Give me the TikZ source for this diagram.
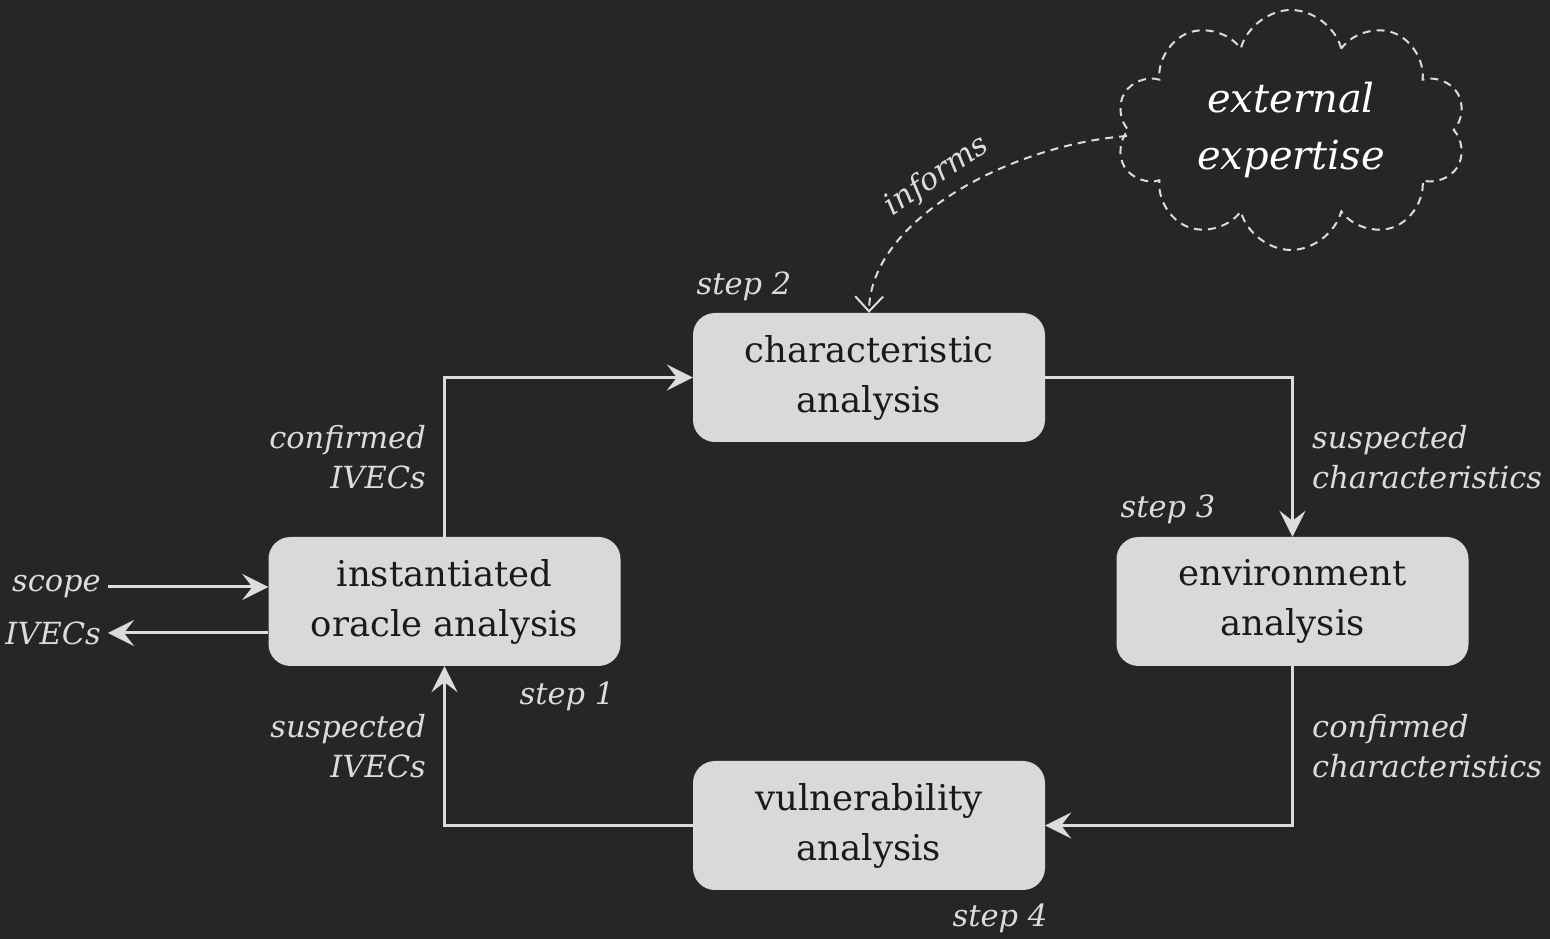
\documentclass[tikz,border=0pt]{standalone}
\usepackage{fontspec}
\setmainfont{DejaVu Serif}
\usetikzlibrary{arrows.meta,shapes.symbols}
\definecolor{bg}{HTML}{262626}
\definecolor{ink}{HTML}{DCDCDC}
\definecolor{boxfill}{HTML}{D9D9D9}
\definecolor{boxtext}{HTML}{1A1A1A}
\begin{document}
\begin{tikzpicture}[x=1pt,y=1pt,
  stage/.style={rectangle, rounded corners=22pt, fill=boxfill, text=boxtext,
    minimum width=352pt, minimum height=129pt, align=center, inner sep=0pt,
    font=\fontsize{35.5}{50}\selectfont},
  lbl/.style={text=ink, inner sep=0pt, font=\fontsize{30.5}{40}\selectfont\itshape},
  flow/.style={draw=ink, line width=3pt, -{Stealth[length=26pt,width=26pt,inset=10pt]}},
  hint/.style={draw=ink, line width=2pt, dash pattern=on 8pt off 6pt}
]
% canvas
\fill[bg] (0,0) rectangle (1550,939);
\useasboundingbox (0,0) rectangle (1550,939);

% analysis stages
\node[stage] (char) at (869,561.5) {characteristic\\analysis};
\node[stage] (inst) at (444.5,337.5) {instantiated\\oracle analysis};
\node[stage] (env)  at (1292.5,337.5) {environment\\analysis};
\node[stage] (vuln) at (869,113.5) {vulnerability\\analysis};

% cycle between the stages
\draw[flow] (inst.north) |- (char.west);
\draw[flow] (char.east) -| (env.north);
\draw[flow] (env.south) |- (vuln.east);
\draw[flow] (vuln.west) -| (inst.south);

% inputs and outputs
\coordinate (scopeL) at (108,352);
\coordinate (ivecL) at (108,306);
\draw[flow] (scopeL) -- (scopeL -| inst.west);
\draw[flow] (ivecL -| inst.west) -- (ivecL);
\node[lbl, anchor=east] (scopeT) at (101,352) {scope};
\node[lbl, anchor=east] (ivecT) at (101,306) {IVECs};

% edge labels
\node[lbl, anchor=east, align=right] (l1) at (426,482) {confirmed\\IVECs};
\node[lbl, anchor=east, align=right] (l4) at (426,193) {suspected\\IVECs};
\node[lbl, anchor=west, align=left] (l2) at (1312,482) {suspected\\characteristics};
\node[lbl, anchor=west, align=left] (l3) at (1312,193) {confirmed\\characteristics};

% step numbers
\node[lbl] (s2) at (744,653) {step 2};
\node[lbl] (s3) at (1168,430) {step 3};
\node[lbl] (s1) at (567,243) {step 1};
\node[lbl] (s4) at (1000,21) {step 4};

% external expertise
\node[cloud, cloud puffs=10, aspect=1.45, hint, text=white,
  minimum width=350pt, minimum height=240pt, inner sep=0pt, align=center,
  font=\fontsize{40}{57}\selectfont\itshape] (ext) at (1291,809) {external\\expertise};
\draw[hint, -{Straight Barb[length=15pt,width=28pt]}]
  ([yshift=-6pt]ext.west) .. controls (1010,794) and (870,719) .. (char.north);
\node[lbl, rotate=34] (inf) at (937,763) {informs};
\end{tikzpicture}
\end{document}
